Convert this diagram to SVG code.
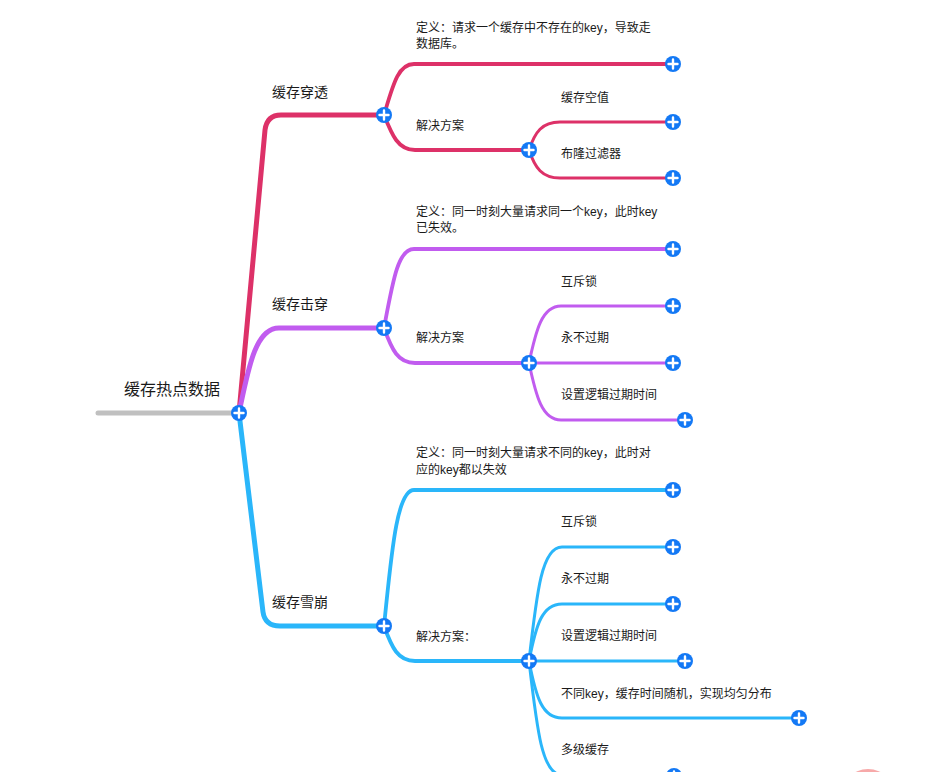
<svg xmlns="http://www.w3.org/2000/svg" width="946" height="772" viewBox="0 0 946 772">
<defs>
<style>
.t{font-family:"Liberation Sans","Noto Sans CJK SC",sans-serif;fill:#1a1a1a;font-size:12px}
.t1{font-size:14px}
.t0{font-size:16px}
.c path{fill:none;stroke-linecap:round;stroke-linejoin:round}
.r{stroke:#dd3168}
.p{stroke:#c15cef}
.b{stroke:#2ab6fa}
.w1{stroke-width:5}
.w2{stroke-width:3.8}
.w3{stroke-width:3}
</style>
<g id="plus">
<circle r="8" fill="#1479f5"/>
<path d="M-4.5 0H4.5M0 -4.5V4.5" stroke="#fff" stroke-width="2.4" stroke-linecap="round"/>
</g>
</defs>
<rect width="946" height="772" fill="#fff"/>
<g id="connectors" class="c">
<path d="M98 413H239" stroke="#c0c0c0" stroke-width="5"/>
<path class="r w1" d="M239 413L265 130Q267 115 281 115H384"/>
<path class="p w1" d="M239 413C248 370 255 328 279 328H384"/>
<path class="b w1" d="M239 413L263 612Q265 626 280 626H384"/>
<path class="r w2" d="M384 115C393 85 398 64 414 64H673"/>
<path class="r w2" d="M384 115C392 135 398 150 415 150H529"/>
<path class="r w3" d="M529 150C535 132 542 122 560 122H673"/>
<path class="r w3" d="M529 150C535 168 542 178 560 178H673"/>
<path class="p w2" d="M384 328C393 280 398 249 414 249H673"/>
<path class="p w2" d="M384 328C392 350 398 363 415 363H529"/>
<path class="p w3" d="M529 363C536 330 542 306 561 306H673"/>
<path class="p w3" d="M529 363H673"/>
<path class="p w3" d="M529 363C536 396 542 420 561 420H685"/>
<path class="b w2" d="M384 626C391 560 396 490 414 490H673"/>
<path class="b w2" d="M384 626C392 648 398 661 415 661H529"/>
<path class="b w3" d="M529 661C537 590 542 547 562 547H673"/>
<path class="b w3" d="M529 661C536 625 542 604 562 604H673"/>
<path class="b w3" d="M529 661H685"/>
<path class="b w3" d="M529 661C536 697 542 718 562 718H799"/>
<path class="b w3" d="M529 661C537 730 542 775 562 775H674"/>
</g>
<g id="root">
<text class="t t0" x="124" y="395">缓存热点数据</text>
<use href="#plus" x="239" y="413"/>
</g>
<g id="n-chuantou">
<text class="t t1" x="272" y="97">缓存穿透</text>
<use href="#plus" x="384" y="115"/>
</g>
<g id="n-chuantou-def">
<text class="t" x="416" y="32">定义：请求一个缓存中不存在的key，导致走</text>
<text class="t" x="416" y="48">数据库。</text>
<use href="#plus" x="673" y="64"/>
</g>
<g id="n-chuantou-sol">
<text class="t" x="416" y="130">解决方案</text>
<use href="#plus" x="529" y="150"/>
</g>
<g id="n-chuantou-sol1">
<text class="t" x="561" y="102">缓存空值</text>
<use href="#plus" x="673" y="122"/>
</g>
<g id="n-chuantou-sol2">
<text class="t" x="561" y="158">布隆过滤器</text>
<use href="#plus" x="673" y="178"/>
</g>
<g id="n-jichuan">
<text class="t t1" x="272" y="309">缓存击穿</text>
<use href="#plus" x="384" y="328"/>
</g>
<g id="n-jichuan-def">
<text class="t" x="416" y="216">定义：同一时刻大量请求同一个key，此时key</text>
<text class="t" x="416" y="232">已失效。</text>
<use href="#plus" x="673" y="249"/>
</g>
<g id="n-jichuan-sol">
<text class="t" x="416" y="342">解决方案</text>
<use href="#plus" x="529" y="363"/>
</g>
<g id="n-jichuan-sol1">
<text class="t" x="561" y="286">互斥锁</text>
<use href="#plus" x="673" y="306"/>
</g>
<g id="n-jichuan-sol2">
<text class="t" x="561" y="342">永不过期</text>
<use href="#plus" x="673" y="363"/>
</g>
<g id="n-jichuan-sol3">
<text class="t" x="561" y="399">设置逻辑过期时间</text>
<use href="#plus" x="685" y="420"/>
</g>
<g id="n-xuebeng">
<text class="t t1" x="272" y="607">缓存雪崩</text>
<use href="#plus" x="384" y="626"/>
</g>
<g id="n-xuebeng-def">
<text class="t" x="416" y="457">定义：同一时刻大量请求不同的key，此时对</text>
<text class="t" x="416" y="474">应的key都以失效</text>
<use href="#plus" x="673" y="490"/>
</g>
<g id="n-xuebeng-sol">
<text class="t" x="416" y="641">解决方案：</text>
<use href="#plus" x="529" y="661"/>
</g>
<g id="n-xuebeng-sol1">
<text class="t" x="561" y="526">互斥锁</text>
<use href="#plus" x="673" y="547"/>
</g>
<g id="n-xuebeng-sol2">
<text class="t" x="561" y="583">永不过期</text>
<use href="#plus" x="673" y="604"/>
</g>
<g id="n-xuebeng-sol3">
<text class="t" x="561" y="640">设置逻辑过期时间</text>
<use href="#plus" x="685" y="661"/>
</g>
<g id="n-xuebeng-sol4">
<text class="t" x="561" y="698">不同key，缓存时间随机，实现均匀分布</text>
<use href="#plus" x="799" y="718"/>
</g>
<g id="n-xuebeng-sol5">
<text class="t" x="561" y="754">多级缓存</text>
<use href="#plus" x="674" y="776"/>
</g>
<circle cx="868" cy="797" r="28" fill="#f7a9a9"/>
</svg>
